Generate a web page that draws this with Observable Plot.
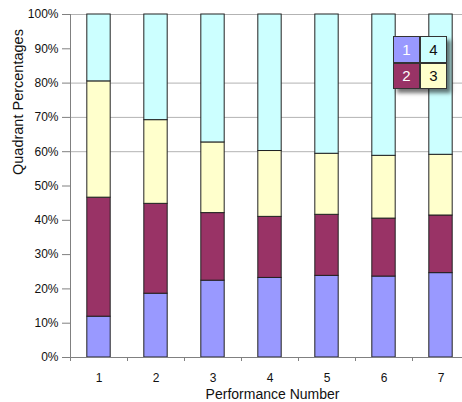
<!DOCTYPE html>
<html>
<head>
<meta charset="utf-8">
<script src="https://cdn.jsdelivr.net/npm/d3@7"></script>
<script src="https://cdn.jsdelivr.net/npm/@observablehq/plot@0.6"></script>
<style>
  html, body { margin: 0; padding: 0; background: #fff; overflow: hidden; }
  #wrap { position: relative; width: 462px; height: 402px; font-family: "Liberation Sans", Arial, sans-serif; }
  .key {
    position: absolute; left: 393px; top: 36px;
    display: grid; grid-template-columns: 27px 27px; grid-template-rows: 26.5px 26.5px;
    box-shadow: 4px 4px 4px rgba(0,0,0,0.55);
  }
  .key div {
    box-sizing: border-box; border: 1px solid #333;
    display: flex; align-items: center; justify-content: center;
    font-size: 15px; line-height: 1;
  }
</style>
</head>
<body>
<div id="wrap"></div>
<script>
// Performance numbers along the x axis
const performances = [1, 2, 3, 4, 5, 6, 7];
// Quadrant series, stacked bottom to top
const quadrants = ["1", "2", "3", "4"];
const quadrant1 = [11.9, 18.6, 22.4, 23.2, 23.8, 23.6, 24.6];
const quadrant2 = [34.7, 26.2, 19.7, 17.8, 17.8, 16.9, 16.8];
const quadrant3 = [33.9, 24.4, 20.6, 19.2, 17.8, 18.3, 17.7];
const quadrant4 = [19.5, 30.8, 37.3, 39.8, 40.6, 41.2, 40.9];
const quadrantColors = ["#9999ff", "#993366", "#ffffcc", "#ccffff"];
const quadrantTextColors = ["#ffffff", "#ffffff", "#111111", "#111111"];

// Axis ticks and the horizontal gridlines shown on the plot
const yTicks = [0, 10, 20, 30, 40, 50, 60, 70, 80, 90, 100];
const gridLevels = [60, 70, 80, 100];
const categoryEdges = [0.5, 1.5, 2.5, 3.5, 4.5, 5.5, 6.5, 7.5];

// Stack the quadrant shares for each performance
const series = [quadrant1, quadrant2, quadrant3, quadrant4];
const rows = [];
performances.forEach((p, i) => {
  let base = 0;
  quadrants.forEach((q, j) => {
    const v = series[j][i];
    rows.push({perf: p, quadrant: q, y1: base, y2: base + v});
    base += v;
  });
});

const barHalf = 0.205;
const axisGray = "#808080";
const textColor = "#111";

const chart = Plot.plot({
  width: 462,
  height: 402,
  marginLeft: 70,
  marginTop: 14,
  marginBottom: 45,
  marginRight: 0,
  style: {fontFamily: "Liberation Sans, Arial, sans-serif", fontSize: "12px", color: textColor, background: "#fff"},
  x: {type: "linear", domain: [0.5, 7.5], range: [70, 469]},
  y: {domain: [0, 100], range: [357, 14]},
  color: {domain: quadrants, range: quadrantColors},
  marks: [
    Plot.ruleY(gridLevels, {stroke: "#b3b3b3", strokeWidth: 1}),
    Plot.rect(rows, {
      x1: d => d.perf - barHalf,
      x2: d => d.perf + barHalf,
      y1: "y1",
      y2: "y2",
      fill: "quadrant",
      stroke: "#222",
      strokeWidth: 1
    }),
    Plot.ruleX([0.5], {stroke: axisGray}),
    Plot.ruleY([0], {stroke: axisGray}),
    Plot.axisY({ticks: yTicks, tickFormat: d => d + "%", tickSize: 8, tickPadding: 4, label: null, stroke: axisGray, fill: textColor}),
    Plot.axisX({ticks: performances, tickFormat: d => String(d), tickSize: 0, tickPadding: 16, label: null, fill: textColor}),
    Plot.axisX({ticks: categoryEdges, tickSize: 4, tickFormat: () => "", label: null, stroke: axisGray}),
    Plot.text(["Quadrant Percentages"], {frameAnchor: "left", dx: -52, dy: -11, rotate: -90, fontSize: 14.5, fill: textColor}),
    Plot.text(["Performance Number"], {frameAnchor: "bottom", dx: 6, dy: 37, lineAnchor: "middle", fontSize: 14, fill: textColor})
  ]
});

const wrap = document.getElementById("wrap");
wrap.appendChild(chart);

// Quadrant key laid out as a 2x2 grid: 1 4 / 2 3
const key = document.createElement("div");
key.className = "key";
[0, 3, 1, 2].forEach(j => {
  const cell = document.createElement("div");
  cell.textContent = quadrants[j];
  cell.style.background = quadrantColors[j];
  cell.style.color = quadrantTextColors[j];
  key.appendChild(cell);
});
wrap.appendChild(key);
</script>
</body>
</html>
